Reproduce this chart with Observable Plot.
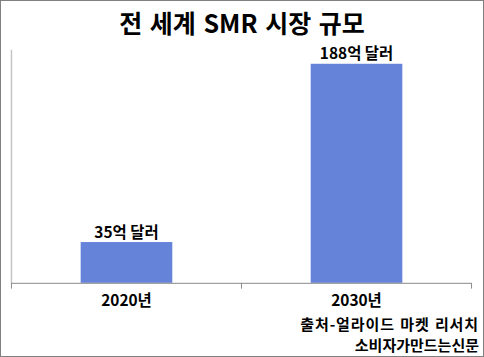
<!DOCTYPE html>
<html>
<head>
<meta charset="utf-8">
<script src="https://cdn.jsdelivr.net/npm/d3@7"></script>
<script src="https://cdn.jsdelivr.net/npm/@observablehq/plot@0.6"></script>
<style>
  html, body { margin: 0; padding: 0; background: #fff; }
  #wrap { position: relative; width: 484px; height: 357px; box-sizing: border-box; border: 1px solid #808080; overflow: hidden;
          font-family: "Noto Sans CJK KR", "Noto Sans", sans-serif; }
  #wrap svg { position: absolute; left: -1px; top: -1px; }
  .title { position: absolute; left: 0; width: 482px; top: 4px; text-align: center; font-size: 25px; font-weight: bold; color: #000; line-height: 34px; word-spacing: 2px; }
  .cap { position: absolute; right: 4px; font-size: 15px; font-weight: bold; color: #000; line-height: 20px; text-align: right; white-space: nowrap; }
</style>
</head>
<body>
<div id="wrap">
  <div class="title">전 세계 SMR 시장 규모</div>
  <div class="cap" style="top:313px; word-spacing:1px; letter-spacing:0.9px">출처-얼라이드 마켓 리서치</div>
  <div class="cap" style="top:334px">소비자가만드는신문</div>
</div>
<script>
const categories = ["2020년", "2030년"];
const values = [35, 188];
const valueLabels = ["35억 달러", "188억 달러"];

const data = categories.map((c, i) => ({ year: c, value: values[i], label: valueLabels[i] }));
const half = 115.5;

const chart = Plot.plot({
  width: 484,
  height: 357,
  marginLeft: 11,
  marginRight: 11,
  marginTop: 50,
  marginBottom: 73,
  style: { fontFamily: "'Noto Sans CJK KR', 'Noto Sans', sans-serif", background: "transparent", overflow: "visible" },
  x: { domain: categories, padding: 0, axis: null },
  y: { domain: [0, 200], axis: null },
  marks: [
    Plot.ruleX([categories[0]], { x: d => d, dx: -half, y1: 0, y2: 200, stroke: "#c4c4c4", strokeWidth: 1.5 }),
    Plot.barY(data, { x: "year", y: "value", fill: "#6583d8", insetLeft: 70, insetRight: 69 }),
    Plot.ruleY([0], { stroke: "#8a8a8a" }),
    Plot.ruleX(categories, { x: d => d, dx: -half, y1: 0, y2: -5, stroke: "#8a8a8a" }),
    Plot.ruleX([categories[categories.length - 1]], { x: d => d, dx: half, y1: 0, y2: -5, stroke: "#8a8a8a" }),
    Plot.text(data, { x: "year", y: "value", text: "label", dy: -10, lineAnchor: "middle", fontSize: 15.5, fontWeight: "bold", fill: "#000" }),
    Plot.text(data, { x: "year", text: "year", frameAnchor: "bottom", dy: 18, lineAnchor: "middle", fontSize: 15.5, fontWeight: "bold", fill: "#000" })
  ]
});
document.getElementById("wrap").prepend(chart);
</script>
</body>
</html>
